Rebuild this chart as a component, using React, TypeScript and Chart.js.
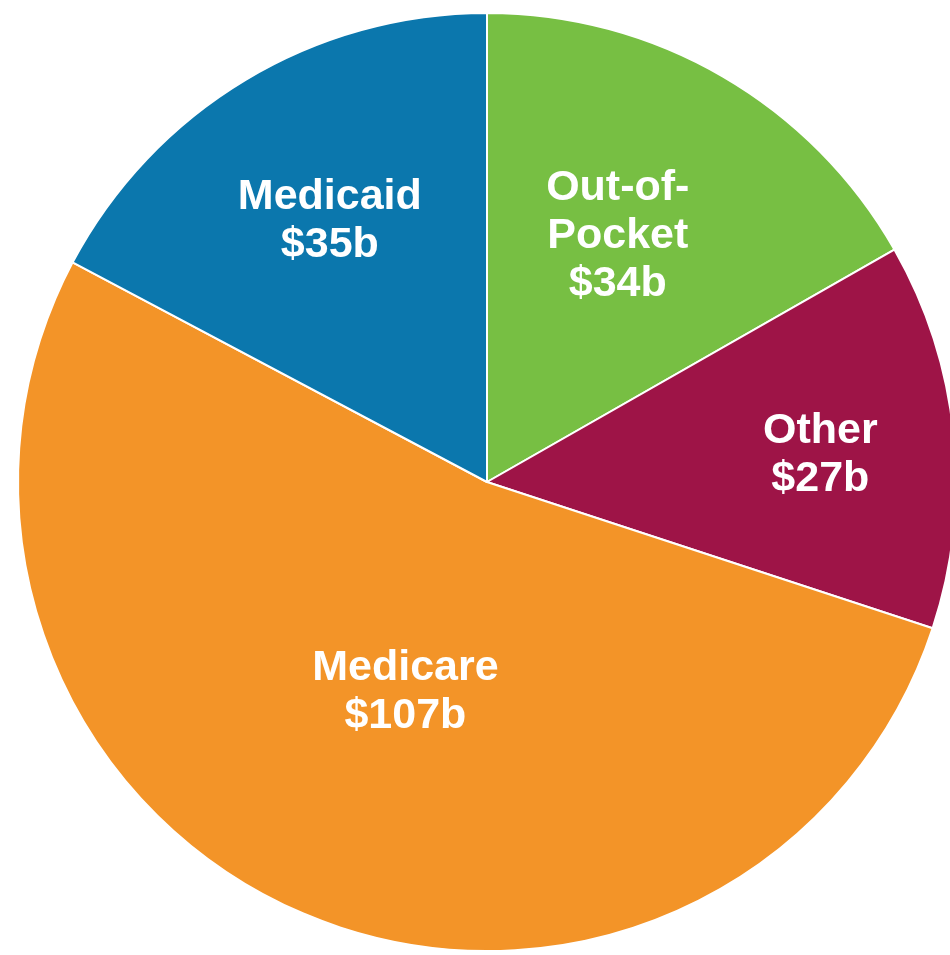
import React, { useEffect, useRef } from "react";
import { Chart, registerables } from "chart.js";

Chart.register(...registerables);

const categories = ["Out-of-\nPocket", "Other", "Medicare", "Medicaid"];
const valueLabels = ["$34b", "$27b", "$107b", "$35b"];
const values = [34, 27, 107, 35];
const colors = ["#77bf43", "#9e1447", "#f39428", "#0b77ad"];
const labelRadiusFraction = [0.593, 0.713, 0.48, 0.65];
const labelAngleShiftDeg = [-2.1, 1.2, -1.8, 0];

const sliceLabels = {
  id: "sliceLabels",
  afterDatasetsDraw(chart: any) {
    const ctx = chart.ctx;
    const meta = chart.getDatasetMeta(0);
    ctx.save();
    ctx.fillStyle = "#ffffff";
    ctx.font = "bold 43px 'Liberation Sans', Arial, sans-serif";
    ctx.textAlign = "center";
    ctx.textBaseline = "middle";
    const lineH = 48;
    meta.data.forEach((arc: any, i: number) => {
      const p = arc.getProps(["x", "y", "startAngle", "endAngle", "outerRadius"], true);
      const mid = (p.startAngle + p.endAngle) / 2 + (labelAngleShiftDeg[i] * Math.PI) / 180;
      const r = p.outerRadius * labelRadiusFraction[i];
      const cx = p.x + Math.cos(mid) * r;
      const cy = p.y + Math.sin(mid) * r;
      const lines = [...categories[i].split("\n"), valueLabels[i]];
      const top = cy - ((lines.length - 1) * lineH) / 2;
      lines.forEach((t, j) => ctx.fillText(t, cx, top + j * lineH));
    });
    ctx.restore();
  },
};

export default function App() {
  const ref = useRef<HTMLCanvasElement>(null);
  useEffect(() => {
    if (!ref.current) return;
    const chart = new Chart(ref.current, {
      type: "pie",
      data: {
        labels: categories.map((c) => c.replace("\n", "")),
        datasets: [
          {
            data: values,
            backgroundColor: colors,
            borderColor: "#ffffff",
            borderWidth: 2,
          },
        ],
      },
      options: {
        responsive: false,
        animation: false,
        layout: { padding: 12 },
        plugins: {
          legend: { display: false },
          tooltip: { enabled: false },
        },
      },
      plugins: [sliceLabels],
    });
    return () => chart.destroy();
  }, []);
  return (
    <div
      style={{
        position: "fixed",
        left: 0,
        top: 0,
        width: 950,
        height: 955,
        overflow: "hidden",
        background: "#ffffff",
      }}
    >
      <canvas ref={ref} width={974} height={964} style={{ display: "block" }} />
    </div>
  );
}
